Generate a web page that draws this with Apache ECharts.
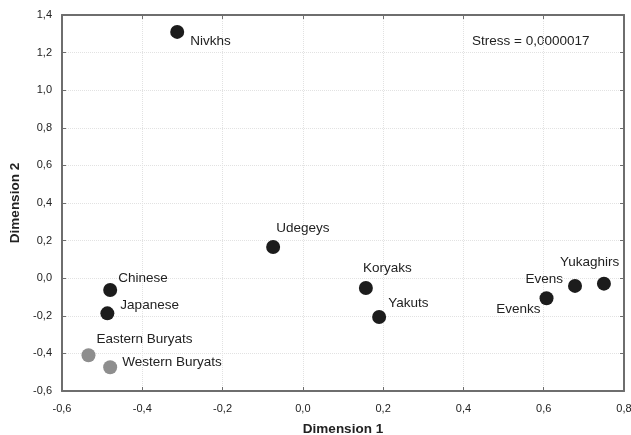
<!DOCTYPE html>
<html><head><meta charset="utf-8">
<script src="https://cdn.jsdelivr.net/npm/echarts@6/dist/echarts.min.js"></script>
<style>html,body{margin:0;padding:0;background:#fff}#c{width:631px;height:435px}</style>
</head><body><div id="c"></div>
<script>
var names = ['Nivkhs','Udegeys','Chinese','Japanese','Eastern Buryats','Western Buryats','Koryaks','Yakuts','Evenks','Evens','Yukaghirs'];
var dim1 = [-0.313,-0.074,-0.480,-0.487,-0.534,-0.480,0.157,0.190,0.607,0.678,0.750];
var dim2 = [1.310,0.166,-0.063,-0.187,-0.410,-0.474,-0.052,-0.206,-0.107,-0.041,-0.029];
var groups = ['a','a','a','a','b','b','a','a','a','a','a'];
var xTicks = [-0.6,-0.4,-0.2,0.0,0.2,0.4,0.6,0.8];
var yTicks = [-0.6,-0.4,-0.2,0.0,0.2,0.4,0.6,0.8,1.0,1.2,1.4];
// label offsets (relative to marker centre) and alignment
var labOff = [[13,9,'left'],[3,-19,'left'],[8,-12,'left'],[13,-8,'left'],[8,-16,'left'],[12,-5,'left'],[-3,-20,'left'],[9,-14,'left'],[-6,11,'right'],[-12,-7,'right'],[-44,-21,'left']];
var colors = {a:'#1c1c1c', b:'#8e8e8e'};
var S = 14;
var fmt = function(v){ return v.toFixed(1).replace('.',','); };

var data = names.map(function(n,i){
  return {
    name: n, value: [dim1[i], dim2[i]],
    itemStyle: {color: colors[groups[i]], opacity: 1},
    label: {show: true, formatter: n, position: [S/2+labOff[i][0], S/2+labOff[i][1]], align: labOff[i][2], verticalAlign: 'middle',
      color: '#222', opacity: 1, fontSize: 13.5, fontFamily: 'Liberation Sans, Arial, sans-serif'}
  };
});

var axisLine = {show: true, onZero: false, lineStyle: {color: '#6e6e6e', width: 2}};
var tick = {show: true, inside: true, length: 4, lineStyle: {color: '#6e6e6e', width: 1}};
var split = {show: true, lineStyle: {color: '#e2e2e2', type: 'dotted', width: 1}};
var lbl = {color: '#222', fontSize: 11, fontFamily: 'Liberation Sans, Arial, sans-serif'};

var chart = echarts.init(document.getElementById('c'), null, {renderer: 'canvas'});
chart.setOption({
  animation: false,
  grid: {left: 62, right: 7, top: 15, bottom: 44, containLabel: false, outerBoundsMode: 'none'},
  xAxis: [{
    type: 'value', min: -0.6, max: 0.8, interval: 0.2, position: 'bottom',
    axisLine: axisLine, axisTick: tick, splitLine: split,
    axisLabel: Object.assign({margin: 12, formatter: fmt}, lbl),
    name: 'Dimension 1', nameLocation: 'middle', nameGap: 31,
    nameTextStyle: {fontWeight: 'bold', fontSize: 13.5, color: '#222', fontFamily: 'Liberation Sans, Arial, sans-serif'}
  },{
    type: 'value', min: -0.6, max: 0.8, interval: 0.2, position: 'top',
    axisLine: axisLine, axisTick: tick, splitLine: {show: false}, axisLabel: {show: false}
  }],
  yAxis: [{
    type: 'value', min: -0.6, max: 1.4, interval: 0.2, position: 'left',
    axisLine: axisLine, axisTick: tick, splitLine: split,
    axisLabel: Object.assign({margin: 10, formatter: fmt}, lbl),
    name: 'Dimension 2', nameLocation: 'middle', nameGap: 40,
    nameTextStyle: {fontWeight: 'bold', fontSize: 13.5, color: '#222', fontFamily: 'Liberation Sans, Arial, sans-serif'}
  },{
    type: 'value', min: -0.6, max: 1.4, interval: 0.2, position: 'right',
    axisLine: axisLine, axisTick: tick, splitLine: {show: false}, axisLabel: {show: false}
  }],
  graphic: [{
    type: 'text', left: 472, top: 34,
    style: {text: 'Stress = 0,0000017', fill: '#222', fontSize: 13.5, fontFamily: 'Liberation Sans, Arial, sans-serif'}
  }],
  series: [{
    type: 'scatter', symbol: 'circle', symbolSize: S, data: data,
    xAxisIndex: 0, yAxisIndex: 0
  }]
});
</script></body></html>
